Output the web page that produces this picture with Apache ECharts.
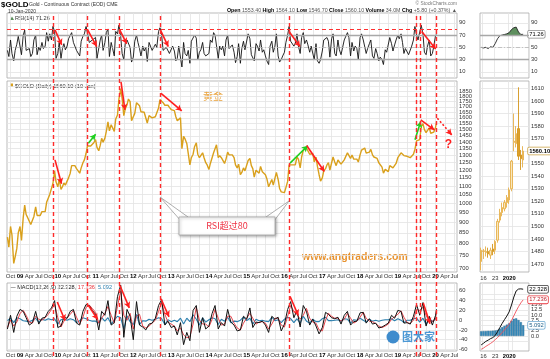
<!DOCTYPE html>
<html><head><meta charset="utf-8">
<script src="https://cdn.jsdelivr.net/npm/echarts@6.0.0/dist/echarts.min.js"></script>
<style>html,body{margin:0;padding:0;background:#fff}#c{width:550px;height:359px}</style>
</head><body><div id="c"></div>
<script>
const FONT = '"Liberation Sans", Arial, sans-serif';
function ts(s){const p=s.split('-').map(Number);return new Date(p[0],p[1]-1,p[2]).getTime();}
const X_MIN = ts('2008-08-28'), X_MAX = ts('2020-07-26');

// sample dates (1st and 15th of each month)
const halfMonthDates = [];
for (let y=2008;y<=2019;y++) for (let m=1;m<=12;m++){ if(y===2008&&m<9) continue; const mm=String(m).padStart(2,'0'); halfMonthDates.push(y+'-'+mm+'-01', y+'-'+mm+'-15'); }
halfMonthDates.push('2020-01-01','2020-01-10');
const monthDates = [];
for (let y=2008;y<=2019;y++) for (let m=1;m<=12;m++){ if(y===2008&&m<9) continue; monthDates.push(y+'-'+String(m).padStart(2,'0')+'-01'); }
monthDates.push('2020-01-01','2020-01-10');

// $GOLD close (semi-monthly)
const goldClose = [
830,785, 880,840, 718,745, 780,850,
880,815, 925,990, 940,925, 920,890, 885,930, 980,935, 940,935, 955,945, 955,1005, 1000,1050, 1040,1115, 1195,1125,
1095,1140, 1080,1095, 1118,1105, 1115,1150, 1180,1230, 1225,1230, 1210,1205, 1180,1215, 1250,1270, 1315,1370, 1360,1370, 1385,1395,
1420,1360, 1335,1375, 1430,1400, 1430,1485, 1565,1490, 1540,1530, 1485,1590, 1625,1775, 1880,1780, 1620,1680, 1720,1775, 1750,1575,
1570,1640, 1740,1730, 1710,1655, 1670,1650, 1665,1555, 1620,1625, 1600,1590, 1610,1605, 1690,1770, 1775,1740, 1715,1715, 1715,1695,
1675,1680, 1665,1610, 1575,1590, 1600,1350, 1445,1425, 1390,1385, 1235,1285, 1310,1365, 1395,1310, 1285,1275, 1320,1285, 1250,1235,
1205,1245, 1245,1320, 1325,1380, 1285,1300, 1285,1295, 1245,1275, 1325,1305, 1295,1305, 1285,1235, 1215,1240, 1170,1185, 1215,1195,
1185,1265, 1280,1230, 1210,1155, 1200,1200, 1180,1225, 1190,1185, 1170,1145, 1095,1115, 1140,1105, 1115,1185, 1140,1085, 1065,1062,
1060,1090, 1128,1235, 1232,1235, 1222,1235, 1290,1275, 1215,1290, 1340,1328, 1355,1345, 1310,1320, 1315,1255, 1290,1225, 1170,1130,
1150,1195, 1210,1235, 1250,1200, 1250,1290, 1255,1230, 1270,1255, 1240,1230, 1270,1275, 1320,1325, 1280,1305, 1275,1280, 1275,1255,
1305,1340, 1345,1355, 1318,1318, 1325,1345, 1305,1290, 1300,1280, 1250,1240, 1220,1180, 1205,1200, 1190,1230, 1235,1215, 1225,1245,
1285,1290, 1320,1320, 1300,1300, 1295,1290, 1285,1295, 1310,1345, 1410,1415, 1420,1525, 1550,1500, 1475,1485, 1515,1470, 1465,1480,
1520,1560.1
];
// RSI(14) (semi-monthly)
const rsi14 = [
45,35, 62,40, 28,45, 55,68,
65,38, 70,78, 45,42, 48,35, 40,62, 70,38, 50,45, 58,48, 52,74, 60,72, 62,84, 76,32,
40,58, 32,48, 56,46, 52,64, 66,74, 58,60, 45,44, 36,60, 68,72, 84,74, 58,60, 62,62,
66,32, 30,62, 70,45, 58,74, 80,35, 58,48, 36,76, 72,86, 68,40, 30,56, 62,64, 50,26,
34,60, 70,58, 48,36, 52,44, 50,27, 58,56, 45,44, 55,50, 76,82, 70,45, 44,50, 50,40,
42,52, 44,28, 32,52, 55,18, 58,40, 36,45, 24,60, 62,70, 65,30, 42,46, 58,40, 36,38,
40,62, 58,74, 70,72, 32,52, 46,52, 36,62, 70,48, 48,54, 42,25, 35,56, 24,48, 60,46,
48,72, 64,38, 36,28, 56,52, 44,62, 42,46, 36,28, 22,52, 60,42, 52,72, 36,26, 30,36,
42,58, 70,84, 60,58, 52,56, 72,52, 40,66, 74,56, 62,54, 42,52, 50,30, 56,28, 24,30,
44,62, 62,66, 60,34, 64,72, 40,36, 62,46, 38,40, 62,60, 74,66, 36,58, 44,52, 48,30,
66,72, 62,64, 40,48, 56,62, 36,32, 48,40, 28,34, 30,22, 46,42, 40,66, 56,44, 54,62,
70,64, 72,58, 40,48, 46,38, 36,52, 62,84, 70,62, 60,86, 72,42, 38,52, 62,36, 40,52,
70,71.26
];
// MACD(12,26,9) (monthly)
const macdLine = [
-18,10,-25,8,
22,18,5,-10,-5,18,-8,4,6,18,25,40,
-15,-12,6,4,18,22,-6,-10,18,32,30,20,
12,-20,18,10,40,-10,-5,48,72,-35,22,8,
-40,38,-10,-14,-20,-8,-6,4,30,42,-10,-2,
-15,-12,-30,-5,-50,-25,-42,20,30,-25,5,-18,
-12,14,30,-18,-5,-12,22,-4,-10,-22,-20,8,
2,25,-15,-4,-5,-2,-10,-25,8,2,6,-22,
-8,22,38,5,20,-14,30,18,-10,2,-12,-28,
-15,16,12,5,3,6,-8,10,18,-10,-3,-2,
15,16,-6,3,-8,-6,-16,-14,-10,-6,10,4,
20,18,-6,-5,-8,8,32,10,36,-12,8,-10,
10,22.328
];
const signalLine = [
-15,0,-12,-4,
14,20,10,-4,-6,8,2,0,5,12,22,32,
5,-14,-2,4,12,20,6,-8,6,26,31,24,
16,-6,4,14,28,10,-6,28,60,10,0,14,
-18,8,12,-12,-16,-12,-6,0,18,36,12,-4,
-8,-12,-22,-16,-30,-36,-34,-8,26,0,-8,-8,
-14,2,22,4,-10,-8,8,8,-6,-16,-20,-6,
4,14,4,-8,-4,-3,-6,-18,-8,4,4,-10,
-14,8,30,18,12,2,10,24,4,-4,-6,-20,
-22,0,14,8,4,4,-2,2,14,4,-6,-2,
6,16,4,-2,-3,-7,-12,-15,-12,-8,2,7,
12,19,6,-5,-7,0,22,20,26,10,-2,-2,
2,17.236
];
const macdHist = [
-1,4,-5,5,
3,-1,-2,-3,0,4,-4,2,0,3,1,3,
-8,1,3,0,3,1,-5,-1,5,3,0,-2,
-2,-6,5,-2,5,-8,0,8,5,-18,9,-3,
-9,12,-9,-1,-2,2,0,2,5,3,-9,1,
-3,0,-3,4,-8,4,-3,11,2,-10,5,-4,
1,5,3,-9,2,-2,6,-5,-2,-3,0,6,
-1,4,-8,2,-1,0,-2,-3,6,-1,1,-5,
2,6,3,-5,3,-6,8,-2,-6,2,-3,-3,
3,6,-1,-1,0,1,-2,3,2,-6,1,0,
4,0,-4,2,-2,0,-2,0,1,1,3,-1,
3,0,-5,0,0,3,4,-4,4,-9,4,-3,
3,5.092
];
// mini panels (last daily bars)
const miniDates = ['Dec 13','Dec 16','Dec 17','Dec 18','Dec 19','Dec 20','Dec 23','Dec 24','Dec 26','Dec 27','Dec 30','Dec 31','Jan 2','Jan 3','Jan 6','Jan 7','Jan 8','Jan 9','Jan 10'];
const miniSlots = miniDates.concat(['Jan 13','Jan 14']);
const miniTickLabels = {'Dec 16':'16','Dec 23':'23','Jan 2':'{y|2020}'};
const miniOHLC = [ // open, close, low, high
[1472,1481,1465,1483],[1480,1480.5,1474,1482],[1479,1480,1476,1484],[1480,1478,1475,1483],[1477,1481,1474,1483],
[1482,1480,1477,1486],[1481,1488,1478,1489],[1489,1504,1487,1506],[1505,1511,1503,1514],[1511,1515,1508,1519],
[1514,1519,1512,1521],[1519,1523,1515,1525],[1521,1529,1518,1531],[1530,1552,1528,1553],[1567,1568,1560,1590],
[1566,1574,1563,1580],[1578,1556,1553,1611],[1557,1554,1545,1561],[1553,1560.1,1547,1564]
];
const miniRsi = [50,49,50,48,51,50,56,64,69,70,71,72,74,79,82,83,75,71,71.26];
const miniMacd = [-4.3,-3.5,-2.6,-2.0,-1.3,-0.8,0.2,2.0,4.0,6.0,7.8,9.5,11.5,14.8,18.6,21.5,22.4,22.5,22.328];
const miniSignal = [-6.4,-5.8,-5.0,-4.3,-3.6,-2.8,-1.8,-0.8,0.4,1.6,2.9,4.2,5.6,7.4,9.6,11.9,14.0,15.8,17.236];
const miniHist = [2.2,2.3,2.3,2.4,2.4,2.5,2.6,2.8,3.5,4.2,4.8,5.4,6.0,7.2,8.2,8.4,7.6,6.6,5.092];

// tick labels
const priceTicks = [700,750,800,850,900,950,1000,1050,1100,1150,1200,1250,1300,1350,1400,1450,1500,1550,1600,1650,1700,1750,1800,1850,1900];
const rsiTicks = [10,30,50,70,90];
const macdTicks = [-60,-40,-20,0,20,40,60];
const miniPriceTicks = [1470,1480,1490,1500,1510,1520,1530,1540,1550,1560,1570,1580,1590,1600,1610];
const miniMacdTicks = [-2.5,0,2.5,5,7.5,10,12.5,15,17.5,20];
const MONTHS = ['Jan','Feb','Mar','Apr','May','Jun','Jul','Aug','Sep','Oct','Nov','Dec'];
const quarterTicks = [];
for (let y=2008;y<=2020;y++) for (const m of [0,3,6,9]) { const t=new Date(y,m,1).getTime(); if(t>X_MIN&&t<X_MAX) quarterTicks.push(t); }

// annotations
const signalDates = ['2009-11-16','2010-10-10','2011-08-16','2012-09-15','2016-02-14','2019-06-26','2019-08-10','2020-01-10'];
const rsiArrows = [
 ['2009-12-05',78.6,'2010-02-08',54.1,'red'],
 ['2010-10-13',79.7,'2011-01-12',51.3,'red'],
 ['2011-08-19',79.7,'2011-10-29',55.7,'red'],
 ['2012-09-22',77.4,'2012-12-04',51.3,'red'],
 ['2016-02-14',75.8,'2016-05-30',51.3,'red'],
 ['2019-08-20',75.8,'2020-01-02',47.1,'red']
];
const priceArrows = [
 ['2009-12-05',1270,'2010-02-06',1113,'red'],
 ['2010-10-23',1392,'2011-01-02',1463,'green'],
 ['2011-09-04',1950,'2011-10-12',1672,'red'],
 ['2012-09-25',1832,'2013-04-13',1663,'red'],
 ['2016-02-24',1247,'2016-08-13',1372,'green'],
 ['2016-08-03',1374,'2017-01-20',1191,'red'],
 ['2019-06-16',1418,'2019-08-10',1568,'green'],
 ['2019-08-10',1582,'2019-12-20',1498,'red'],
 ['2020-01-18',1597,'2020-06-05',1457,'dotted']
];
const macdArrows = [
 ['2009-12-27',37.2,'2010-03-12',-0.6,'red'],
 ['2010-10-23',30.4,'2011-01-22',1.4,'red'],
 ['2011-08-25',70.9,'2011-11-23',25.1,'red'],
 ['2012-09-25',43.9,'2012-12-11',6.9,'red'],
 ['2016-02-24',48.6,'2016-05-14',9.5,'red'],
 ['2019-09-04',35.2,'2019-11-08',-7.3,'red']
];

const RED='#ff1f1f', GREEN='#1fd01f', GOLD='#d9a01c';
function arrowItems(list){
  return list.map(a=>{
    const col = a[4]==='green'?GREEN:RED;
    return [
      {coord:[ts(a[0]),a[1]], symbol:'none', lineStyle:{color:col,width:1.6,type:a[4]==='dotted'?[2,2]:'solid'}},
      {coord:[ts(a[2]),a[3]], symbol:'arrow', symbolSize:[5,6]}
    ];
  });
}
function dateLabel(v){ const d=new Date(v); const m=d.getMonth(); if(m===0) return '{y|'+String(d.getFullYear()).slice(2)+'}'; return MONTHS[m]; }
const lblBase = {fontSize:5.8, color:'#333', fontFamily:FONT};
const gridLine = {show:true, lineStyle:{color:'#e3e3e3', width:0.8}};
const rsiGuide = [
  {yAxis:70, lineStyle:{color:'#a8a8a8', width:1.4, type:'solid'}},
  {yAxis:30, lineStyle:{color:'#a8a8a8', width:1.4, type:'solid'}},
  {yAxis:50, lineStyle:{color:'#b8b8b8', width:0.8, type:[4,2,1,2]}}
];

// date axes are value axes over timestamps, ticked at quarter starts
function dateX(grid, showLabels){
  return {type:'value', gridIndex:grid, min:X_MIN, max:X_MAX, scale:true,
    axisLine:{show:false}, axisTick:{show:false, customValues:quarterTicks},
    axisLabel:{show:showLabels, customValues:quarterTicks, formatter:dateLabel, margin:1.5, ...lblBase, fontSize:6,
      showMinLabel:true, showMaxLabel:true, hideOverlap:false,
      rich:{y:{fontWeight:'bold', color:'#000', fontSize:6, fontFamily:FONT}}},
    splitLine:gridLine};
}
function miniX(grid, showLabels, margin){
  return {type:'category', gridIndex:grid, data:miniSlots, boundaryGap:true,
    axisLine:{show:false}, axisTick:{show:false},
    axisLabel:{show:showLabels, interval:0, margin:margin, formatter:v=>miniTickLabels[v]||'', ...lblBase,
      rich:{y:{fontWeight:'bold', color:'#000', fontSize:5.8, fontFamily:FONT}}},
    splitLine:{show:true, interval:(i)=>[1,6,12,14].includes(i), lineStyle:{color:'#e3e3e3', width:0.8}}};
}
function valY(grid, type, min, max, ticks, fmt){
  return {type:type, gridIndex:grid, min:min, max:max, position:'right',
    axisLine:{show:false}, axisTick:{show:false, customValues:ticks},
    axisLabel:{customValues:ticks, formatter:fmt, margin:2, ...lblBase},
    splitLine:gridLine};
}
const gridStyle = {show:true, borderColor:'#a9a9a9', borderWidth:0.8, backgroundColor:'#fff', containLabel:false, outerBoundsMode:'none'};
const endLbl = (border, color, bold, digits) => ({show:true, distance:5, formatter:p=>Number(Array.isArray(p.value)?p.value[1]:p.value).toFixed(digits),
  fontSize:5.8, fontFamily:FONT, fontWeight:bold?'bold':'normal', color:color, backgroundColor:'#fff',
  borderColor:border, borderWidth:0.8, borderRadius:1, padding:[1,1,0,1]});

const chart = echarts.init(document.getElementById('c'), null, {renderer:'canvas'});
const option = {
  animation:false,
  textStyle:{fontFamily:FONT},
  grid:[
    {left:7, top:13, width:450, height:65, ...gridStyle},
    {left:7, top:81, width:450, height:191, ...gridStyle},
    {left:7, top:283, width:450, height:68, ...gridStyle},
    {left:480, top:13, width:49, height:65, ...gridStyle},
    {left:480, top:81, width:49, height:191, ...gridStyle},
    {left:480, top:283, width:49, height:68, ...gridStyle},
    {left:7, top:13, width:450, height:343, show:false, outerBoundsMode:'none'}
  ],
  xAxis:[
    dateX(0,false), dateX(1,true), dateX(2,true),
    miniX(3,false,2), miniX(4,true,3), miniX(5,true,2),
    {type:'value', gridIndex:6, min:X_MIN, max:X_MAX, show:false, scale:true}
  ],
  yAxis:[
    valY(0,'value',0,106,rsiTicks,v=>String(v)),
    valY(1,'log',685,1960,priceTicks,v=>String(Math.round(v))),
    valY(2,'value',-63,76,macdTicks,v=>String(Math.round(v))),
    valY(3,'value',0,106,rsiTicks,v=>String(v)),
    valY(4,'value',1463.6,1616,miniPriceTicks,v=>String(Math.round(v))),
    valY(5,'value',-7.2,25.3,miniMacdTicks,v=>v.toFixed(1)),
    {type:'value', gridIndex:6, min:0, max:1, show:false}
  ],
  visualMap:[{type:'piecewise', show:false, seriesIndex:5, dimension:1,
    pieces:[{min:70, max:120, color:'#5e8f5e'},{min:-20, max:70, color:'rgba(255,255,255,0)'}]}],
  series:[
    {type:'line', name:'RSI', xAxisIndex:0, yAxisIndex:0, data:halfMonthDates.map((d,i)=>[ts(d),rsi14[i]]),
      showSymbol:false, lineStyle:{color:'#111', width:0.9}, silent:true,
      markLine:{silent:true, symbol:['none','none'], label:{show:false}, animation:false,
        data:[...rsiGuide, {yAxis:80, lineStyle:{color:'#ff3030', width:1.2, type:[4,3]}}, ...arrowItems(rsiArrows)]}},
    {type:'line', name:'GOLD', xAxisIndex:1, yAxisIndex:1, data:halfMonthDates.map((d,i)=>[ts(d),goldClose[i]]),
      showSymbol:false, lineStyle:{color:GOLD, width:1.4}, silent:true,
      markLine:{silent:true, symbol:['none','none'], label:{show:false}, animation:false, data:arrowItems(priceArrows)},
      markPoint:{silent:true, symbol:'circle', symbolSize:1, itemStyle:{color:'rgba(0,0,0,0)'},
        label:{show:true, formatter:'?', color:RED, fontSize:12, fontWeight:'bold', fontFamily:FONT},
        data:[{coord:[ts('2020-05-03'),1379]}]}},
    {type:'line', name:'MACD', xAxisIndex:2, yAxisIndex:2, data:monthDates.map((d,i)=>[ts(d),macdLine[i]]),
      showSymbol:false, lineStyle:{color:'#111', width:1}, z:4, silent:true,
      markLine:{silent:true, symbol:['none','none'], label:{show:false}, animation:false, data:arrowItems(macdArrows)}},
    {type:'line', name:'Signal', xAxisIndex:2, yAxisIndex:2, data:monthDates.map((d,i)=>[ts(d),signalLine[i]]),
      showSymbol:false, lineStyle:{color:'#e8323a', width:0.9}, z:3, silent:true},
    {type:'line', name:'Hist', xAxisIndex:2, yAxisIndex:2, data:monthDates.map((d,i)=>[ts(d),macdHist[i]]),
      showSymbol:false, lineStyle:{color:'#2b7fae', width:1.1}, z:2, silent:true},
    {type:'line', name:'miniRsiArea', xAxisIndex:3, yAxisIndex:3, data:miniRsi, showSymbol:false,
      lineStyle:{width:0}, areaStyle:{origin:70, opacity:1}, silent:true, z:1},
    {type:'line', name:'miniRsi', xAxisIndex:3, yAxisIndex:3, data:miniRsi, showSymbol:false,
      lineStyle:{color:'#222', width:0.9}, silent:true, z:3, endLabel:endLbl('#888','#000',false,2),
      markLine:{silent:true, symbol:['none','none'], label:{show:false}, animation:false, data:rsiGuide}},
    {type:'candlestick', name:'miniPrice', xAxisIndex:4, yAxisIndex:4, data:miniOHLC, barWidth:'92%', silent:true,
      itemStyle:{color:'#f8e7bd', color0:'#dea12a', borderColor:'#e6b04a', borderColor0:'#d4951c', borderWidth:0.9}},
    {type:'line', name:'miniClose', xAxisIndex:4, yAxisIndex:4, data:miniOHLC.map(c=>c[1]), showSymbol:false,
      lineStyle:{opacity:0}, silent:true, endLabel:endLbl('#c9a040','#000',true,2)},
    {type:'line', name:'miniMacd', xAxisIndex:5, yAxisIndex:5, data:miniMacd, showSymbol:false,
      lineStyle:{color:'#111', width:1}, silent:true, z:4, endLabel:endLbl('#333','#000',false,3)},
    {type:'line', name:'miniSignal', xAxisIndex:5, yAxisIndex:5, data:miniSignal, showSymbol:false,
      lineStyle:{color:'#f0505a', width:0.9}, silent:true, z:3, endLabel:endLbl('#e8323a','#c0202a',false,3)},
    {type:'bar', name:'miniHist', xAxisIndex:5, yAxisIndex:5, data:miniHist, barWidth:'92%', silent:true,
      itemStyle:{color:'#3a8fc0', borderColor:'#1f5f88', borderWidth:0.4}, z:2},
    {type:'line', name:'miniHistLbl', xAxisIndex:5, yAxisIndex:5, data:miniHist, showSymbol:false,
      lineStyle:{opacity:0}, silent:true, endLabel:endLbl('#6aa6cf','#1f5f88',false,3)},
    {type:'line', name:'signals', xAxisIndex:6, yAxisIndex:6, data:[[X_MIN,0.5],[X_MAX,0.5]], showSymbol:false,
      lineStyle:{opacity:0}, silent:true, z:10,
      markLine:{silent:true, symbol:['none','none'], label:{show:false}, animation:false,
        lineStyle:{color:'#ff2a2a', width:1.4, type:[4,3]}, data:signalDates.map(d=>({xAxis:ts(d)}))}}
  ],
  graphic:[
    {type:'text', x:1, y:0.5, style:{text:'$GOLD', font:'bold 8px '+FONT, fill:'#000'}},
    {type:'text', x:29, y:2.5, style:{text:'Gold - Continuous Contract (EOD) CME', font:'5px '+FONT, fill:'#333'}},
    {type:'text', x:8, y:9, style:{text:'10-Jan-2020', font:'5px '+FONT, fill:'#333'}},
    {type:'text', x:457, y:1.5, style:{text:'© StockCharts.com', font:'4.8px '+FONT, fill:'#777', align:'right'}},
    {type:'text', x:457, y:8.5, style:{align:'right', font:'5.3px '+FONT,
      text:'{b|Open} {v|1553.40} {b|High} {v|1564.10} {b|Low} {v|1546.70} {b|Close} {v|1560.10} {b|Volume} {v|34.0M} {b|Chg} {v|+5.80 (+0.37%)} {v|▲}',
      rich:{b:{font:'bold 5.3px '+FONT, fill:'#000'}, v:{font:'5.3px '+FONT, fill:'#555'}}}},
    {type:'polygon', shape:{points:[[10,20],[12,16.5],[14,20]]}, style:{fill:'#5e8f5e'}},
    {type:'text', x:15, y:15, style:{text:'RSI(14) 71.26', font:'5.6px '+FONT, fill:'#333'}},
    {type:'rect', shape:{x:10, y:83.5, width:3, height:3.5}, style:{fill:GOLD}},
    {type:'text', x:15, y:83, style:{text:'$GOLD (Daily) 1560.10 (10 Jan)', font:'5.6px '+FONT, fill:'#333'}},
    {type:'text', x:10, y:284, style:{font:'5.6px '+FONT,
      text:'{k|— MACD(12,26,9)} {k|22.328,} {r|17.236,} {b|5.092}',
      rich:{k:{font:'5.6px '+FONT, fill:'#222'}, r:{font:'5.6px '+FONT, fill:'#e8323a'}, b:{font:'5.6px '+FONT, fill:'#2b7fae'}}}},
    {type:'text', x:203, y:91, style:{text:'黄金', font:'10px "Noto Sans CJK SC"', fill:'#eaa23a'}},
    {type:'text', x:302, y:251.5, style:{text:'www.angtraders.com', font:'bold 10.5px '+FONT, fill:'#e8922e'}},
    {type:'polygon', z:20, shape:{points:[[160,197],[181,221],[188,217]]}, style:{fill:'#fff', stroke:'#9a9a9a', lineWidth:0.8}},
    {type:'polygon', z:20, shape:{points:[[289,201],[266,217],[274,221]]}, style:{fill:'#fff', stroke:'#9a9a9a', lineWidth:0.8}},
    {type:'rect', z:21, shape:{x:179, y:217, width:96, height:18}, style:{fill:'#fff', stroke:'#a6a6a6', lineWidth:0.8,
      shadowBlur:3, shadowColor:'rgba(0,0,0,0.35)', shadowOffsetX:1, shadowOffsetY:1}},
    {type:'text', z:22, x:227, y:226, style:{text:'RSI超过80', font:'9px "Noto Sans CJK SC"', fill:'#ee3344', align:'center', verticalAlign:'middle'}},
    {type:'circle', z:20, shape:{cx:393, cy:337, r:6.5}, style:{fill:'#2a7fc8', opacity:0.9}},
    {type:'text', z:20, x:402, y:331, style:{text:'图大家', font:'bold 11px "Noto Sans CJK SC"', fill:'#3a8ed0', opacity:0.9}}
  ]
};
chart.setOption(option);
</script>
</body></html>
